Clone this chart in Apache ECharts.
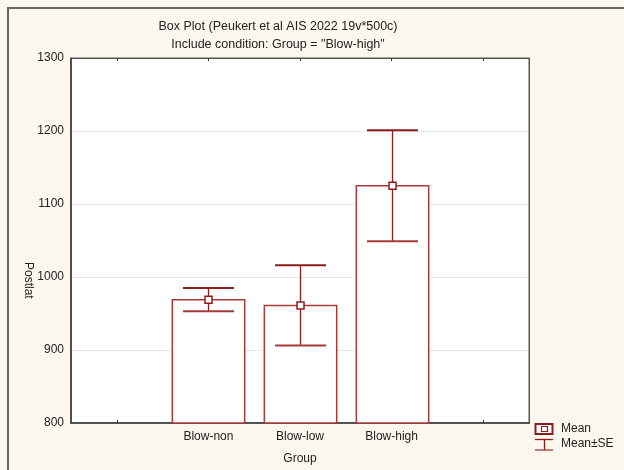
<!DOCTYPE html>
<html>
<head>
<meta charset="utf-8">
<script src="https://cdn.jsdelivr.net/npm/echarts@6/dist/echarts.min.js"></script>
<style>
html,body{margin:0;padding:0;background:#fcf8ee;}
#chart{width:624px;height:470px;}
</style>
</head>
<body>
<div id="chart"></div>
<script>
const categories = ['', 'Blow-non', 'Blow-low', 'Blow-high', ''];
const means = [null, 969, 961, 1125, null];
const se = [null, 16, 55, 76, null];
const yTicks = [800, 900, 1000, 1100, 1200, 1300];

const barColor = '#a63a3a';
const whiskColor = '#8e1c1c';
const FONT = 'Liberation Sans, Arial, sans-serif';

const data = [];
for (let i = 0; i < categories.length; i++) {
  if (means[i] != null) data.push([i, means[i], means[i] - se[i], means[i] + se[i]]);
}

const chart = echarts.init(document.getElementById('chart'), null, {renderer: 'canvas'});
chart.setOption({
  backgroundColor: '#fcf8ee',
  animation: false,
  title: [
    {text: 'Box Plot (Peukert et al AIS 2022 19v*500c)', left: 273, top: 15, textAlign: 'center',
     textStyle: {fontFamily: FONT, fontSize: 12.5, fontWeight: 'normal', color: '#222'}},
    {text: 'Include condition: Group = "Blow-high"', left: 273, top: 33, textAlign: 'center',
     textStyle: {fontFamily: FONT, fontSize: 12.5, fontWeight: 'normal', color: '#222'}}
  ],
  grid: {left: 71, top: 58, width: 458, height: 367, show: true, backgroundColor: '#ffffff', borderColor: '#555', borderWidth: 1},
  xAxis: [
    {type: 'category', data: categories, position: 'bottom', boundaryGap: true,
     axisLine: {lineStyle: {color: '#333', width: 1.5}},
     axisTick: {show: true, inside: true, alignWithLabel: true, length: 3, lineStyle: {color: '#333'}},
     axisLabel: {fontFamily: FONT, fontSize: 12, color: '#222', margin: 8, interval: 0},
     name: 'Group', nameLocation: 'middle', nameGap: 30,
     nameTextStyle: {fontFamily: FONT, fontSize: 12, color: '#222'}},
    {type: 'category', data: categories, position: 'top', boundaryGap: true,
     axisLine: {lineStyle: {color: '#555'}},
     axisTick: {show: true, inside: true, alignWithLabel: true, length: 3, lineStyle: {color: '#333'}},
     axisLabel: {show: false}}
  ],
  yAxis: [
    {type: 'value', min: 800, max: 1300, interval: 100,
     axisLine: {show: true, lineStyle: {color: '#333', width: 1.5}},
     axisTick: {show: false},
     axisLabel: {fontFamily: FONT, fontSize: 12, color: '#222', margin: 7,
       formatter: v => yTicks.indexOf(v) >= 0 ? String(v) : ''},
     splitLine: {show: true, lineStyle: {color: '#d4d4d4', type: 'dotted', width: 1}}},
    {type: 'value', min: 800, max: 1300, interval: 100, position: 'right',
     axisLine: {show: true, lineStyle: {color: '#555'}}, axisTick: {show: false},
     axisLabel: {show: false}, splitLine: {show: false}}
  ],
  series: [{
    type: 'custom',
    data: data,
    clip: false,
    renderItem: function (params, api) {
      const x = api.value(0);
      const m = api.value(1), lo = api.value(2), hi = api.value(3);
      const base = api.coord([x, 800]);
      const top = api.coord([x, m]);
      const pLo = api.coord([x, lo]);
      const pHi = api.coord([x, hi]);
      const bw = api.size([1, 0])[0] * 0.79;
      const cw = 51;
      const cx = Math.round(top[0]) + 0.5;
      return {
        type: 'group',
        children: [
          {type: 'rect', shape: {x: cx - bw / 2, y: top[1], width: bw, height: base[1] - top[1]},
           style: {fill: '#ffffff', stroke: barColor, lineWidth: 1.5}},
          {type: 'line', shape: {x1: cx, y1: pLo[1], x2: cx, y2: pHi[1]}, style: {stroke: whiskColor, lineWidth: 1.3}},
          {type: 'line', shape: {x1: cx - cw / 2, y1: pHi[1], x2: cx + cw / 2, y2: pHi[1]}, style: {stroke: whiskColor, lineWidth: 2}},
          {type: 'line', shape: {x1: cx - cw / 2, y1: pLo[1], x2: cx + cw / 2, y2: pLo[1]}, style: {stroke: barColor, lineWidth: 2}},
          {type: 'rect', shape: {x: cx - 3.5, y: top[1] - 3.5, width: 7, height: 7},
           style: {fill: '#ffffff', stroke: whiskColor, lineWidth: 1.5}}
        ]
      };
    }
  }],
  graphic: [
    {type: 'polyline', shape: {points: [[8, 470], [8, 8], [624, 8]]}, style: {stroke: '#666', lineWidth: 2, fill: null}},
    {type: 'text', left: 22, top: 262, rotation: -Math.PI / 2,
     style: {text: 'Postlat', font: '12px ' + FONT, fill: '#222'}},
    {type: 'rect', shape: {x: 535.5, y: 424, width: 17, height: 10}, style: {fill: '#fff', stroke: whiskColor, lineWidth: 2}},
    {type: 'rect', shape: {x: 541.5, y: 426.5, width: 6, height: 5}, style: {fill: '#fff', stroke: whiskColor, lineWidth: 1.2}},
    {type: 'line', shape: {x1: 535, y1: 439.5, x2: 553, y2: 439.5}, style: {stroke: whiskColor, lineWidth: 1.3}},
    {type: 'line', shape: {x1: 535, y1: 450, x2: 553, y2: 450}, style: {stroke: barColor, lineWidth: 1.3}},
    {type: 'line', shape: {x1: 544.5, y1: 439.5, x2: 544.5, y2: 450}, style: {stroke: whiskColor, lineWidth: 1.3}},
    {type: 'text', left: 561, top: 423, style: {text: 'Mean', font: '12px ' + FONT, fill: '#222'}},
    {type: 'text', left: 561, top: 438, style: {text: 'Mean±SE', font: '12px ' + FONT, fill: '#222'}}
  ]
});
</script>
</body>
</html>
